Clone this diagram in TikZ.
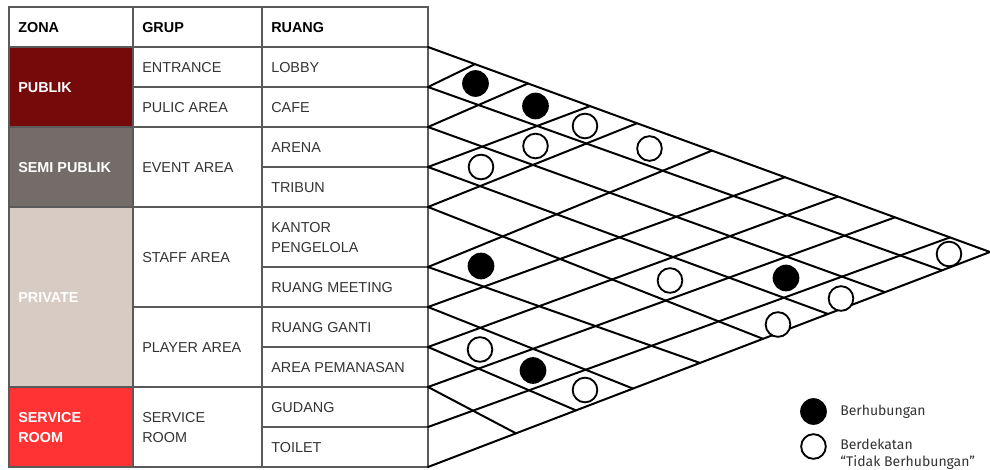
\documentclass[tikz,border=0pt]{standalone}
\usepackage{fontspec}
\setmainfont{Liberation Sans}
\newfontfamily\legendfont{Fira Sans}
\usepackage{tikz}
\usetikzlibrary{calc}

\definecolor{publik}{HTML}{760909}
\definecolor{semipublik}{HTML}{746C69}
\definecolor{private}{HTML}{D7CBC4}
\definecolor{service}{HTML}{FF3333}
\definecolor{tabline}{HTML}{5A5A5A}
\definecolor{txt}{HTML}{333333}

\begin{document}
\begin{tikzpicture}[x=0.75pt,y=-0.75pt,
    tab/.style={draw=tabline, line width=0.8pt},
    grid/.style={line width=1.5pt, line cap=round},
    head/.style={anchor=west, inner sep=0pt, font=\bfseries\fontsize{10.8}{15}\selectfont},
    zona/.style={anchor=west, inner sep=0pt, align=left, text=white, font=\bfseries\fontsize{10.8}{15}\selectfont},
    room/.style={anchor=west, inner sep=0pt, align=left, text=txt, font=\fontsize{10.8}{15}\selectfont},
    yes/.style={circle, fill=black, inner sep=0pt, minimum size=20pt},
    near/.style={circle, draw=black, fill=white, line width=1.4pt, inner sep=0pt, minimum size=18.5pt},
    legend/.style={anchor=west, inner sep=0pt, align=left, text=txt, font=\legendfont\fontsize{10.5}{13}\selectfont}]
\useasboundingbox (0,0) rectangle (990,470);

\fill[publik] (9,47) rectangle (133,127);
\fill[semipublik] (9,127) rectangle (133,207);
\fill[private] (9,207) rectangle (133,387);
\fill[service] (9,387) rectangle (133,467);

\draw[tab] (9,7) rectangle (428,467);
\draw[tab] (133,7) -- (133,467);
\draw[tab] (262,7) -- (262,467);
\foreach \y in {47,127,207,387} \draw[tab] (9,\y) -- (428,\y);
\foreach \y in {87,307} \draw[tab] (133,\y) -- (428,\y);
\foreach \y in {167,267,347,427} \draw[tab] (262,\y) -- (428,\y);

\node[head] (hzona) at (18,28) {ZONA};
\node[head] (hgrup) at (142,28) {GRUP};
\node[head] (hruang) at (271,28) {RUANG};

\node[zona] (zpublik) at (18,88) {PUBLIK};
\node[zona] (zsemi) at (18,168) {SEMI PUBLIK};
\node[zona] (zprivate) at (18,298) {PRIVATE};
\node[zona] (zservice) at (18,428) {SERVICE\\ROOM};

\node[room] (gentrance) at (142,68) {ENTRANCE};
\node[room] (gpublic) at (142,108) {PULIC AREA};
\node[room] (gevent) at (142,168) {EVENT AREA};
\node[room] (gstaff) at (142,258) {STAFF AREA};
\node[room] (gplayer) at (142,348) {PLAYER AREA};
\node[room] (gservice) at (142,428) {SERVICE\\ROOM};

\node[room] (rlobby) at (271,68) {LOBBY};
\node[room] (rcafe) at (271,108) {CAFE};
\node[room] (rarena) at (271,148) {ARENA};
\node[room] (rtribun) at (271,188) {TRIBUN};
\node[room] (rkantor) at (271,238) {KANTOR\\PENGELOLA};
\node[room] (rmeeting) at (271,288) {RUANG MEETING};
\node[room] (rganti) at (271,328) {RUANG GANTI};
\node[room] (rpemanasan) at (271,368) {AREA PEMANASAN};
\node[room] (rgudang) at (271,408) {GUDANG};
\node[room] (rtoilet) at (271,448) {TOILET};

\foreach \i/\y in {0/47,1/87,2/127,3/167,4/207,5/267,6/307,7/347,8/387,9/427,10/467}
  \coordinate (p\i) at (428,\y);
\coordinate (apex) at (990,252);

\draw[grid] (p0) -- (apex) -- (p10);
\foreach \i/\x in {1/942,2/885,3/828,4/763,5/700,6/633,7/576,8/516}
  \draw[grid] (p\i) -- ($(p10)!{(\x-428)/562}!(apex)$);
\foreach \j/\x in {1/475,2/528,3/590,4/637,5/712,6/785,7/838,8/895,9/950}
  \draw[grid] (p\j) -- ($(p0)!{(\x-428)/562}!(apex)$);

\node[yes] (lobbycafe) at (475.5,83.5) {};
\node[yes] (lobbyarena) at (535.5,106) {};
\node[near] (lobbytribun) at (585,126) {};
\node[near] (cafetribun) at (535.5,146) {};
\node[near] (lobbykantor) at (649.5,148.5) {};
\node[near] (arenatribun) at (481,167) {};
\node[yes] (kantormeeting) at (481,266) {};
\node[near] (tribunpemanasan) at (670,280.5) {};
\node[yes] (arenagudang) at (786,278) {};
\node[near] (lobbytoilet) at (949,254) {};
\node[near] (arenatoilet) at (841,298.5) {};
\node[near] (tribuntoilet) at (778,324.5) {};
\node[near] (gantipemanasan) at (480,349.5) {};
\node[yes] (gantigudang) at (533,370.5) {};
\node[near] (gantitoilet) at (585,390) {};

\node[yes] (keyyes) at (813.5,411.5) {};
\node[near] (keynear) at (813.5,446.5) {};
\node[legend] (keyyestext) at (840,412) {Berhubungan};
\node[legend] (keyneartext) at (840,454.5) {Berdekatan\\“Tidak Berhubungan”};
\end{tikzpicture}
\end{document}
